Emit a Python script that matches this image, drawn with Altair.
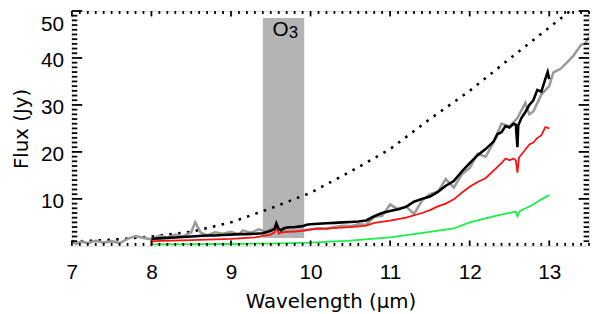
import altair as alt
import pandas as pd
import numpy as np

W, H = 524, 238

# ---- data ----
model_x = [7.0, 7.5, 8.0, 8.5, 9.0, 9.5, 10.0, 10.5, 11.0, 11.5, 12.0, 12.5, 13.0, 13.3, 13.4]
model_y = [0.9, 1.3, 2.0, 3.0, 5.0, 8.0, 11.3, 15.8, 20.6, 27.0, 33.0, 39.8, 46.5, 50.5, 52.0]

gray_x = [7.0, 7.05, 7.12, 7.2, 7.3, 7.4, 7.5, 7.6, 7.7, 7.8, 7.9, 8.0, 8.1, 8.2, 8.3, 8.4,
          8.5, 8.55, 8.62, 8.7, 8.8, 8.9, 9.0, 9.1, 9.15, 9.25, 9.35, 9.45, 9.55, 9.6, 9.7,
          9.8, 9.9, 10.0, 10.1, 10.2, 10.3, 10.4, 10.5, 10.6, 10.7, 10.8, 10.9, 11.0, 11.1,
          11.2, 11.3, 11.4, 11.5, 11.6, 11.7, 11.8, 11.9, 12.0, 12.1, 12.2, 12.3, 12.4, 12.5,
          12.6, 12.7, 12.75, 12.8, 12.9, 13.0, 13.05, 13.15, 13.3, 13.4, 13.45, 13.5]
gray_y = [1.0, 0.4, 0.9, 0.6, 1.1, 0.7, 1.0, 0.6, 1.5, 2.1, 1.7, 1.4, 2.2, 1.7, 2.4, 2.0,
          2.9, 5.0, 2.8, 2.2, 2.9, 2.6, 3.0, 2.4, 3.3, 2.8, 3.5, 3.0, 4.2, 3.4, 3.1,
          2.9, 3.3, 3.5, 3.8, 3.6, 4.0, 4.3, 4.2, 4.6, 4.5, 6.2, 6.4, 8.8, 7.8,
          8.4, 6.8, 9.6, 11.0, 11.5, 14.2, 12.4, 15.2, 16.6, 19.6, 19.0, 22.0, 26.0, 25.4,
          27.2, 30.4, 28.0, 28.6, 32.2, 34.0, 36.9, 37.8, 40.4, 42.8, 43.0, 44.5]

black_x = [8.0, 8.1, 8.2, 8.3, 8.4, 8.5, 8.6, 8.7, 8.8, 8.9, 9.0, 9.1, 9.2, 9.3, 9.4, 9.5,
           9.55, 9.57, 9.6, 9.63, 9.66, 9.7, 9.8, 9.9, 9.95, 10.0, 10.1, 10.2, 10.3, 10.4,
           10.5, 10.6, 10.7, 10.8, 10.9, 11.0, 11.1, 11.2, 11.3, 11.4, 11.5, 11.6, 11.7,
           11.8, 11.9, 12.0, 12.1, 12.2, 12.3, 12.35, 12.4, 12.45, 12.5, 12.55, 12.58, 12.6,
           12.61, 12.65, 12.7, 12.75, 12.8, 12.85, 12.9, 12.95, 12.98, 13.0]
black_y = [1.5, 1.6, 1.7, 1.8, 1.9, 2.0, 2.1, 2.2, 2.2, 2.3, 2.4, 2.5, 2.5, 2.6, 2.7, 3.2,
           3.6, 4.8, 3.6, 3.3, 3.7, 3.9, 4.0, 4.2, 4.5, 4.6, 4.7, 4.8, 4.9, 5.0,
           5.1, 5.2, 5.4, 6.3, 7.0, 7.4, 7.8, 8.3, 9.4, 10.0, 10.5, 11.5, 12.8,
           13.8, 15.8, 17.6, 19.3, 20.6, 22.2, 23.8, 24.2, 25.5, 25.2, 26.0, 25.8, 21.0,
           25.6, 27.2, 28.5, 30.0, 31.0, 33.2, 32.8, 35.5, 37.0, 35.5]

red_x = [8.0, 8.01, 8.5, 9.0, 9.3, 9.5, 9.55, 9.57, 9.6, 9.65, 9.7, 9.9, 10.0, 10.5, 10.7,
         10.8, 11.0, 11.2, 11.4, 11.5, 11.6, 11.7, 11.8, 11.9, 12.0, 12.1, 12.2, 12.3,
         12.4, 12.45, 12.5, 12.55, 12.58, 12.6, 12.62, 12.7, 12.75, 12.8, 12.85, 12.9,
         12.95, 13.0]
red_y = [0.0, 1.0, 1.2, 1.5, 1.8, 2.4, 2.9, 4.0, 2.6, 2.9, 3.0, 3.2, 3.5, 4.0, 4.3,
         4.9, 5.4, 6.0, 7.0, 7.6, 8.4, 9.0, 9.9, 11.3, 12.6, 13.6, 14.4, 16.0,
         17.6, 18.6, 18.2, 18.6, 18.2, 15.6, 18.8, 20.5, 21.6, 22.0, 23.0, 23.5,
         25.3, 25.0]

green_x = [8.0, 8.5, 9.0, 9.5, 10.0, 10.5, 11.0, 11.5, 11.8, 12.0, 12.3, 12.5, 12.58,
           12.6, 12.63, 12.8, 12.9, 13.0]
green_y = [0.3, 0.35, 0.4, 0.5, 0.7, 1.1, 1.8, 3.0, 3.7, 5.0, 6.3, 7.0, 7.3,
           6.3, 7.4, 8.8, 9.9, 10.8]

band_x = [9.40]
band_x2 = [9.92]
band_y = [1.7]
band_y2 = [48.5]
band_label = ["O"]
band_sub = ["3"]

x_major = [7, 8, 9, 10, 11, 12, 13]
y_major = [10, 20, 30, 40, 50]
x_minor = [v for v in np.round(np.arange(7.0, 13.51, 0.1), 2).tolist() if abs(v - round(v)) > 1e-6]
y_minor = [v for v in range(1, 50) if v % 10 != 0]

# ---- scales / axes ----
xs = alt.Scale(domain=[7, 13.5], nice=False, zero=False)
ys = alt.Scale(domain=[0, 50], nice=False, zero=False)

xaxis = alt.Axis(values=x_major, title="Wavelength (μm)", ticks=False, domain=False, grid=False,
                 labelFlush=False, labelFont="Liberation Sans", labelFontSize=21, labelColor="black",
                 labelPadding=16, titleFont="DejaVu Sans", titleFontSize=20, titleFontWeight="normal",
                 titleColor="black", titleBaseline="alphabetic", titleY=62, titleX=W / 2,
                 titleAlign="center", format="d")
yaxis = alt.Axis(values=y_major, title="Flux (Jy)", ticks=False, domain=False, grid=False,
                 labelFlush=True, labelFont="Liberation Sans", labelFontSize=21, labelColor="black",
                 labelPadding=8.5, labelOffset=3, titleFont="DejaVu Sans", titleFontSize=20,
                 titleFontWeight="normal", titleColor="black", titleBaseline="alphabetic",
                 titleX=-45, titleY=H / 2, titleAlign="center", format="d")

X = alt.X("x:Q", scale=xs, axis=xaxis)
Y = alt.Y("y:Q", scale=ys, axis=yaxis)


def line_df(xv, yv):
    return pd.DataFrame({"x": xv, "y": yv})


band_df = pd.DataFrame({"x": band_x, "x2": band_x2, "y": band_y, "y2": band_y2,
                        "xc": [(a + b) / 2 for a, b in zip(band_x, band_x2)],
                        "lab": band_label, "sub": band_sub})

band = alt.Chart(band_df).mark_rect(color="#b4b4b4").encode(
    x=X, x2="x2:Q", y=Y, y2="y2:Q")
band_text = alt.Chart(band_df).mark_text(font="Liberation Sans", fontSize=21, color="black",
                                         align="center", baseline="top", dx=-3, dy=1).encode(
    x=alt.X("xc:Q", scale=xs, axis=xaxis), y=alt.Y("y2:Q", scale=ys, axis=yaxis), text="lab:N")
band_sub_text = alt.Chart(band_df).mark_text(font="Liberation Sans", fontSize=17, color="black",
                                             align="center", baseline="top", dx=10, dy=7).encode(
    x=alt.X("xc:Q", scale=xs, axis=xaxis), y=alt.Y("y2:Q", scale=ys, axis=yaxis), text="sub:N")

model = alt.Chart(line_df(model_x, model_y)).mark_line(
    color="black", strokeWidth=2.6, strokeDash=[2.6, 6.4], clip=True).encode(x=X, y=Y)
gray = alt.Chart(line_df(gray_x, gray_y)).mark_line(
    color="#9a9a9a", strokeWidth=2.6, clip=True).encode(x=X, y=Y)
green = alt.Chart(line_df(green_x, green_y)).mark_line(
    color="#19f04a", strokeWidth=1.8).encode(x=X, y=Y)
red = alt.Chart(line_df(red_x, red_y)).mark_line(
    color="#ff1010", strokeWidth=1.8).encode(x=X, y=Y)
black = alt.Chart(line_df(black_x, black_y)).mark_line(
    color="black", strokeWidth=2.6).encode(x=X, y=Y)

# ---- inward ticks on all four sides ----
def xticks(vals, length):
    df = pd.DataFrame({"x": vals})
    bot = alt.Chart(df).mark_rule(color="black", strokeWidth=1.8).encode(
        x=X, y=alt.value(H), y2=alt.value(H - length))
    top = alt.Chart(df).mark_rule(color="black", strokeWidth=1.8).encode(
        x=X, y=alt.value(0), y2=alt.value(length))
    return [bot, top]


def yticks(vals, length):
    df = pd.DataFrame({"y": vals})
    left = alt.Chart(df).mark_rule(color="black", strokeWidth=1.8).encode(
        y=Y, x=alt.value(0), x2=alt.value(length))
    right = alt.Chart(df).mark_rule(color="black", strokeWidth=1.8).encode(
        y=Y, x=alt.value(W), x2=alt.value(W - length))
    return [left, right]


ticks = xticks(x_major, 5.5) + xticks(x_minor, 3) + yticks(y_major, 10.5) + yticks(y_minor, 5.5)

chart = alt.layer(band, band_text, band_sub_text, model, gray, green, red, black, *ticks).properties(
    width=W, height=H,
    autosize=alt.AutoSizeParams(type="none"),
    padding={"left": 64.7, "top": 1, "right": 3, "bottom": 66},
).configure_view(stroke="black", strokeWidth=2).configure(background="white")

chart.save("out.html", embed_options={"renderer": "svg", "actions": False})
